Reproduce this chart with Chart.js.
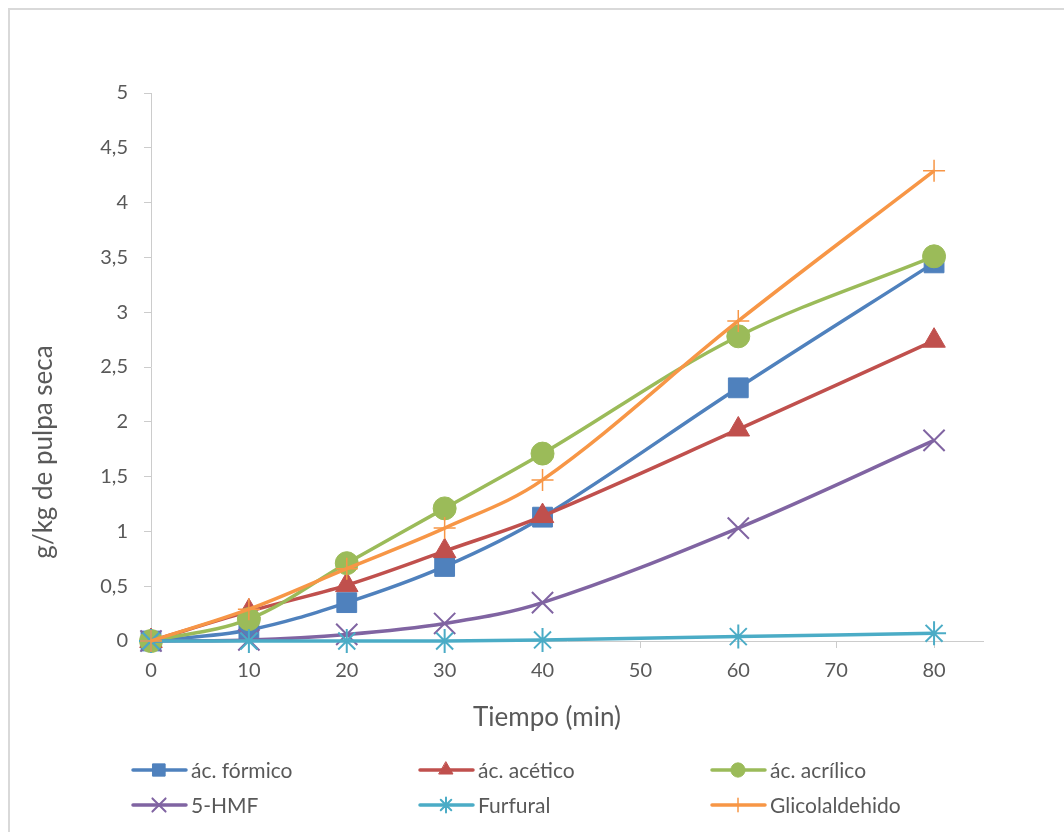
<!DOCTYPE html>
<html>
<head>
<meta charset="utf-8">
<script src="https://cdn.jsdelivr.net/npm/chart.js@4.4.0/dist/chart.umd.min.js"></script>
<style>
  html, body { margin: 0; padding: 0; background: #fff; }
  #frame { position: absolute; left: 8px; top: 8px; width: 1100px; height: 900px;
           border-left: 2px solid #d9d9d9; border-top: 2px solid #d9d9d9; }
  #chart { position: absolute; left: 0; top: 0; }
</style>
</head>
<body>
<div id="frame"></div>
<canvas id="chart" width="1064" height="832"></canvas>
<script>
// Datos
const tiempo   = [0, 10, 20, 30, 40, 60, 80];
const formico  = [0, 0.10, 0.35, 0.68, 1.13, 2.31, 3.45];
const acetico  = [0, 0.27, 0.51, 0.82, 1.14, 1.93, 2.74];
const acrilico = [0, 0.20, 0.71, 1.21, 1.71, 2.78, 3.51];
const hmf      = [0, 0.01, 0.06, 0.16, 0.35, 1.03, 1.83];
const furfural = [0, 0, 0, 0, 0.01, 0.04, 0.07];
const glicol   = [0, 0.29, 0.66, 1.03, 1.47, 2.92, 4.29];

const etiquetas = ['ác. fórmico', 'ác. acético', 'ác. acrílico', '5-HMF', 'Furfural', 'Glicolaldehido'];
const series = [formico, acetico, acrilico, hmf, furfural, glicol];

const colores = ['#4F81BD', '#C0504D', '#9BBB59', '#8064A2', '#4BACC6', '#F79646'];
const estilos = ['rect', 'triangle', 'circle', 'crossRot', 'star', 'cross'];
const radios  = [14, 13, 11.5, 15, 12, 11];
const bordes  = [1, 1, 1, 2, 2, 1.5];

const FONT = "Lato, 'Open Sans', sans-serif";
const GRIS = '#595959';

const toPts = vals => vals.map((v, i) => ({ x: tiempo[i], y: v }));

const datasets = series.map((vals, i) => ({
  label: etiquetas[i],
  data: toPts(vals),
  borderColor: colores[i],
  backgroundColor: colores[i],
  borderWidth: 3.5,
  tension: 0.35,
  clip: false,
  pointStyle: estilos[i],
  pointRadius: radios[i],
  pointHoverRadius: radios[i],
  pointBorderWidth: bordes[i],
  pointBackgroundColor: colores[i],
  pointBorderColor: colores[i],
  order: 5 - i
}));

// títulos de ejes y leyenda dibujados a mano (posiciones como en Excel)
const extras = {
  id: 'extras',
  afterDraw(chart) {
    const ctx = chart.ctx;
    ctx.save();
    ctx.fillStyle = GRIS;
    ctx.font = '26px ' + FONT;
    ctx.textAlign = 'center';
    ctx.textBaseline = 'middle';
    ctx.fillText('Tiempo (min)', 547, 718);
    ctx.save();
    ctx.translate(44, 452);
    ctx.rotate(-Math.PI / 2);
    ctx.fillText('g/kg de pulpa seca', 0, 0);
    ctx.restore();

    const cols = [133, 420, 712];
    const rows = [770, 805];
    ctx.font = '21px ' + FONT;
    ctx.textAlign = 'left';
    etiquetas.forEach((lab, i) => {
      const x = cols[i % 3];
      const y = rows[Math.floor(i / 3)];
      ctx.strokeStyle = colores[i];
      ctx.lineWidth = 3.5;
      ctx.lineCap = 'round';
      ctx.beginPath();
      ctx.moveTo(x, y);
      ctx.lineTo(x + 53, y);
      ctx.stroke();
      ctx.fillStyle = colores[i];
      ctx.lineWidth = bordes[i];
      Chart.helpers.drawPoint(ctx, {
        pointStyle: estilos[i],
        radius: radios[i] * 0.62,
        borderWidth: bordes[i],
        rotation: 0
      }, x + 26, y);
      ctx.fillStyle = GRIS;
      ctx.fillText(lab, x + 58, y + 1);
    });
    ctx.restore();
  }
};

new Chart(document.getElementById('chart'), {
  type: 'line',
  data: { datasets: datasets },
  options: {
    responsive: false,
    animation: false,
    devicePixelRatio: 1,
    layout: { padding: { left: 0, top: 93, right: 81, bottom: 131 } },
    plugins: {
      legend: { display: false },
      tooltip: { enabled: false }
    },
    scales: {
      x: {
        type: 'linear',
        min: 0,
        max: 85,
        afterBuildTicks: s => { s.ticks = s.ticks.filter(t => t.value <= 80); },
        afterFit: s => { s.height = 60; },
        ticks: { stepSize: 10, color: GRIS, padding: 11, font: { family: FONT, size: 20 } },
        grid: { drawOnChartArea: false, drawTicks: true, tickLength: 7, color: '#cccccc' },
        border: { display: true, color: '#cccccc', width: 1 }
      },
      y: {
        min: 0,
        max: 5,
        afterFit: s => { s.width = 151; },
        ticks: {
          stepSize: 0.5,
          color: GRIS,
          padding: 16,
          font: { family: FONT, size: 20 },
          callback: v => String(v).replace('.', ',')
        },
        grid: { drawOnChartArea: false, drawTicks: true, tickLength: 7, color: '#cccccc' },
        border: { display: true, color: '#cccccc', width: 1 }
      }
    }
  },
  plugins: [extras]
});
</script>
</body>
</html>
